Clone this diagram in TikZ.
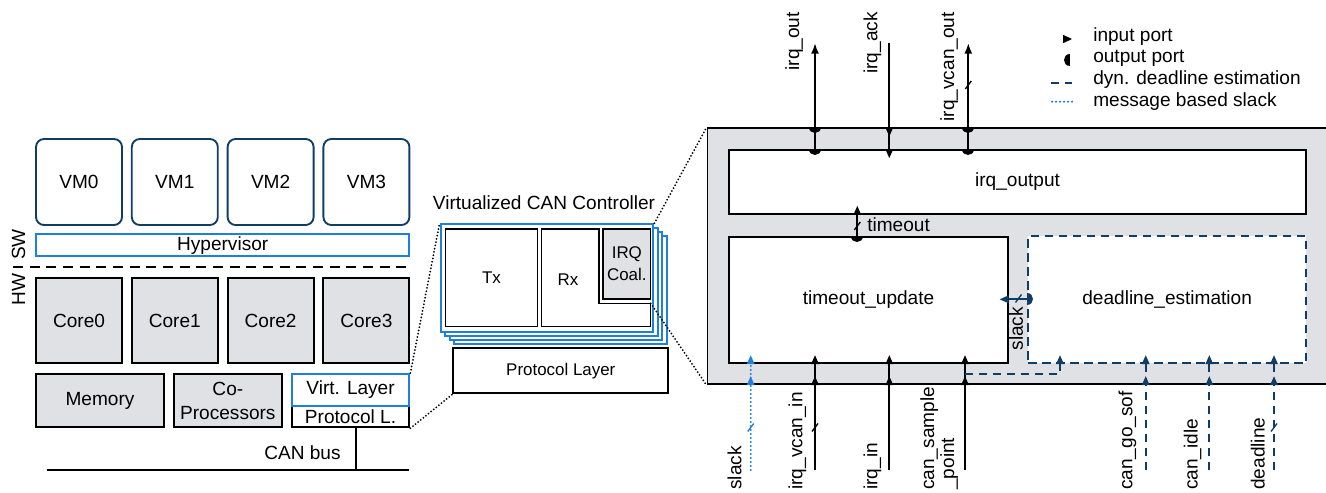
\documentclass[tikz,border=0pt]{standalone}
\usepackage{fontspec}
\setmainfont{Liberation Sans}
\usetikzlibrary{arrows.meta}
\definecolor{dblue}{RGB}{16,61,102}
\definecolor{bblue}{RGB}{30,128,220}
\definecolor{lgray}{RGB}{224,225,229}
\newcommand\txtM{\fontsize{14.3}{17}\selectfont}
\newcommand\txtS{\fontsize{12.7}{15}\selectfont}
\tikzset{
 bxs/.style={draw, line width=1.4pt, inner sep=0pt},
 vm/.style={draw=dblue, line width=1.4pt, rounded corners=6pt, inner sep=0pt},
 hw/.style={draw, line width=1.4pt, fill=lgray, inner sep=0pt},
 bluebox/.style={draw=bblue, line width=1.5pt, fill=white, inner sep=0pt},
 frame/.style={draw=bblue, line width=1.6pt, fill=white, inner sep=0pt},
 thinbox/.style={draw, line width=0.8pt, inner sep=0pt},
 dbox/.style={draw=dblue, line width=1.4pt, dash pattern=on 6.2pt off 4.3pt, fill=white, inner sep=0pt},
 sig/.style={line width=1.4pt},
 dsig/.style={draw=dblue, line width=1.4pt, dash pattern=on 6.2pt off 4.3pt},
 dotsig/.style={draw=bblue, line width=1.8pt, line cap=round, dash pattern=on 0pt off 3pt},
 zoomline/.style={line width=1.5pt, line cap=round, dash pattern=on 0pt off 2.5pt},
 vlab/.style={rotate=90, inner sep=0pt},
}
\newcommand\bx[7]{\node[#1, minimum width={(#5-#3)*0.75pt}, minimum height={(#6-#4)*0.75pt}] (#2) at ({(#3+#5)/2},{(#4+#6)/2}) {#7};}
\newcommand\inU[2][black]{\fill[#1,shift={(#2)}] (-4,0) -- (4,0) -- (0,-9) -- cycle;}
\newcommand\inD[2][black]{\fill[#1,shift={(#2)}] (-4,0) -- (4,0) -- (0,9) -- cycle;}
\newcommand\inL[2][black]{\fill[#1,shift={(#2)}] (0,-4) -- (0,4) -- (-9,0) -- cycle;}
\newcommand\inR[2][black]{\fill[#1,shift={(#2)}] (0,-4.2) -- (0,4.2) -- (9,0) -- cycle;}
\newcommand\outD[2][black]{\fill[#1,shift={(#2)}] (-6,0) .. controls (-6,8) and (6,8) .. (6,0) -- cycle;}
\newcommand\outR[2][black]{\fill[#1,shift={(#2)}] (0,-6) .. controls (8,-6) and (8,6) .. (0,6) -- cycle;}
\newcommand\outL[2][black]{\fill[#1,shift={(#2)}] (0,-6) .. controls (-8,-6) and (-8,6) .. (0,6) -- cycle;}
\newcommand\bwmark[2][black]{\draw[#1,line width=1pt,shift={(#2)}] (-3,4) -- (3,-4);}
\begin{document}
\begin{tikzpicture}[x=0.75pt,y=-0.75pt, every node/.append style={font=\txtM}]
\useasboundingbox (0,0) rectangle (1326,492);
\clip (0,0) rectangle (1326,492);
% ---------------- left part
\bx{vm}{vm0}{36}{139}{122}{225}{VM0}
\bx{vm}{vm1}{131.8}{139}{217.8}{225}{VM1}
\bx{vm}{vm2}{227.6}{139}{313.6}{225}{VM2}
\bx{vm}{vm3}{323.4}{139}{409.4}{225}{VM3}
\bx{bluebox}{hyp}{36}{234.3}{409.4}{256}{Hypervisor}
\coordinate (dl0) at (13,266.7); \coordinate (dl1) at (409.4,266.7);
\draw[line width=1.4pt, dash pattern=on 7.5pt off 5pt] (dl0) -- (dl1);
\node[vlab, anchor=west] (swl) at (18.5,260) {SW};
\node[vlab, anchor=east] (hwl) at (18.5,273) {HW};
\bx{hw}{c0}{36}{277.7}{122}{363.3}{Core0}
\bx{hw}{c1}{131.8}{277.7}{217.8}{363.3}{Core1}
\bx{hw}{c2}{227.6}{277.7}{313.6}{363.3}{Core2}
\bx{hw}{c3}{323.4}{277.7}{409.4}{363.3}{Core3}
\bx{hw}{mem}{35.7}{374}{164.3}{427.3}{Memory}
\bx{hw,align=center}{cop}{174}{374}{281.7}{427.3}{Co-\\[1pt]Processors}
\bx{bxs,fill=white}{pl}{291.7}{406}{409.4}{427.3}{Protocol L.}
\bx{bluebox}{vl}{291.7}{374}{409.4}{406}{Virt. Layer}
\coordinate (bus0) at (46.7,470); \coordinate (bus1) at (409.4,470);
\coordinate (busj) at (356,470);
\draw[sig] (bus0) -- (bus1);
\draw[sig] (busj) -- (pl.south -| busj);
\node (canbus) at (302.5,453) {CAN bus};
% ---------------- middle part
\node (vcc) at (544,203) {Virtualized CAN Controller};
\bx{frame}{f3}{454.2}{236.3}{666.8}{344.3}{}
\bx{frame}{f2}{449.7}{232.3}{662.3}{340.3}{}
\bx{frame}{f1}{445.2}{228.3}{657.8}{336.3}{}
\bx{frame}{f0}{440.7}{224.3}{653.3}{332.3}{}
\bx{thinbox,font=\txtS}{tx}{445.7}{229}{537.3}{326.7}{Tx}
\draw[line width=0.8pt] (541.7,229) -- (599,229) -- (599,303.3) -- (650.7,303.3) -- (650.7,326.7) -- (541.7,326.7) -- cycle;
\node[font=\txtS] (rxl) at (568,280) {Rx};
\bx{thinbox,fill=lgray,font=\txtS,align=center}{irq}{603}{229}{650.7}{299}{IRQ\\[1.5pt]Coal.}
\bx{bxs,fill=white,font=\txtS}{plm}{453.3}{348.3}{668.3}{393.3}{Protocol Layer}
% ---------------- right part
\bx{hw}{big}{707.5}{128.3}{1340}{384.3}{}
\bx{bxs,fill=white}{io}{729.3}{150}{1305.7}{214}{irq\_output}
\bx{bxs,fill=white}{tu}{729.3}{236.7}{1007.7}{363.3}{timeout\_update}
\bx{dbox}{de}{1028.3}{236}{1306}{363.3}{deadline\_estimation}
% zoom lines
\coordinate (rxc) at (650.7,303.3);
\draw[zoomline] (vl.north east) -- (f0.north west);
\draw[zoomline] (pl.south east) -- (plm.south west);
\draw[zoomline] (f0.north east) -- (big.north west);
\draw[zoomline] (rxc) -- (big.south west);
% columns
\coordinate (t1) at (815,43); \coordinate (t2) at (889.3,43); \coordinate (t3) at (968.3,43);
\coordinate (s1) at (750.7,470); \coordinate (s2) at (815,470); \coordinate (s3) at (889.3,470);
\coordinate (s4) at (965,470); \coordinate (s5) at (1145.7,470); \coordinate (s6) at (1209.3,470);
\coordinate (s7) at (1274,470);
\coordinate (tmx) at (857.3,225); \coordinate (sly) at (1018,299.3); \coordinate (brx) at (1060,374);
% connectors
\draw[sig,-{Latex[length=8pt,width=6pt]}] (io.north -| t1) -- (t1);
\draw[sig] (t2) -- (io.north -| t2);
\draw[sig,-{Latex[length=8pt,width=6pt]}] (io.north -| t3) -- (t3);
\draw[sig] (tu.north -| tmx) -- (io.south -| tmx);
\draw[dblue, line width=1.4pt] (de.west |- sly) -- (tu.east |- sly);
\draw[dotsig] (s1) -- (tu.south -| s1);
\draw[sig] (s2) -- (tu.south -| s2);
\draw[sig] (s3) -- (tu.south -| s3);
\draw[sig] (s4) -- (tu.south -| s4);
\draw[dsig] (s4 |- brx) -| (de.south -| brx);
\draw[dsig] (s5) -- (de.south -| s5);
\draw[dsig] (s6) -- (de.south -| s6);
\draw[dsig] (s7) -- (de.south -| s7);
% ports
\outD{io.north -| t1} \outD{big.north -| t1}
\inD{big.north -| t2} \inD{io.north -| t2}
\outD{io.north -| t3} \outD{big.north -| t3}
\inU{io.south -| tmx} \outD{tu.north -| tmx}
\inL[dblue]{tu.east |- sly} \outR[dblue]{de.west |- sly}
\inU[bblue]{big.south -| s1} \inU[bblue]{tu.south -| s1}
\inU{big.south -| s2} \inU{tu.south -| s2}
\inU{big.south -| s3} \inU{tu.south -| s3}
\inU{big.south -| s4} \inU{tu.south -| s4}
\inU[dblue]{de.south -| brx}
\inU[dblue]{big.south -| s5} \inU[dblue]{de.south -| s5}
\inU[dblue]{big.south -| s6} \inU[dblue]{de.south -| s6}
\inU[dblue]{big.south -| s7} \inU[dblue]{de.south -| s7}
% bus-width marks
\bwmark{968.3,85}
\bwmark{857.3,226}
\bwmark[dblue]{1018.5,298.5}
\bwmark[bblue]{750.7,427.5}
\bwmark{815,427.5}
\bwmark[dblue]{1274,427.5}
% labels
\node[vlab, anchor=south east] (lt1) at (803.3,12) {irq\_out};
\node[vlab, anchor=south east] (lt2) at (881.7,12) {irq\_ack};
\node[vlab, anchor=south east] (lt3) at (958.3,12) {irq\_vcan\_out};
\node[anchor=west, inner sep=0pt] (tml) at (867,225) {timeout};
\node[vlab, anchor=south east] (sll) at (1023.3,306.7) {slack};
\node[vlab, anchor=south west] (lb1) at (741.7,490) {slack};
\node[vlab, anchor=south west] (lb2) at (806.7,490) {irq\_vcan\_in};
\node[vlab, anchor=south west] (lb3) at (881.7,490) {irq\_in};
\node[vlab, anchor=south west, align=left, font=\fontsize{14.3}{15}\selectfont] (lb4) at (958.3,490) {can\_sample\\\_point};
\node[vlab, anchor=south west] (lb5) at (1136.7,490) {can\_go\_sof};
\node[vlab, anchor=south west] (lb6) at (1201.7,490) {can\_idle};
\node[vlab, anchor=south west] (lb7) at (1265,490) {deadline};
% legend
\inR{1063,39}
\outL{1069.5,60.5}
\coordinate (lg1a) at (1051,82.7); \coordinate (lg1b) at (1072,82.7);
\coordinate (lg2a) at (1052,101.7); \coordinate (lg2b) at (1072,101.7);
\draw[dsig] (lg1a) -- (lg1b);
\draw[dotsig] (lg2a) -- (lg2b);
\node[anchor=west, inner sep=0pt] (lgt1) at (1093,36.3) {input port};
\node[anchor=west, inner sep=0pt] (lgt2) at (1093,58) {output port};
\node[anchor=west, inner sep=0pt] (lgt3) at (1093,79.8) {dyn. deadline estimation};
\node[anchor=west, inner sep=0pt] (lgt4) at (1093,101.5) {message based slack};
\end{tikzpicture}
\end{document}
